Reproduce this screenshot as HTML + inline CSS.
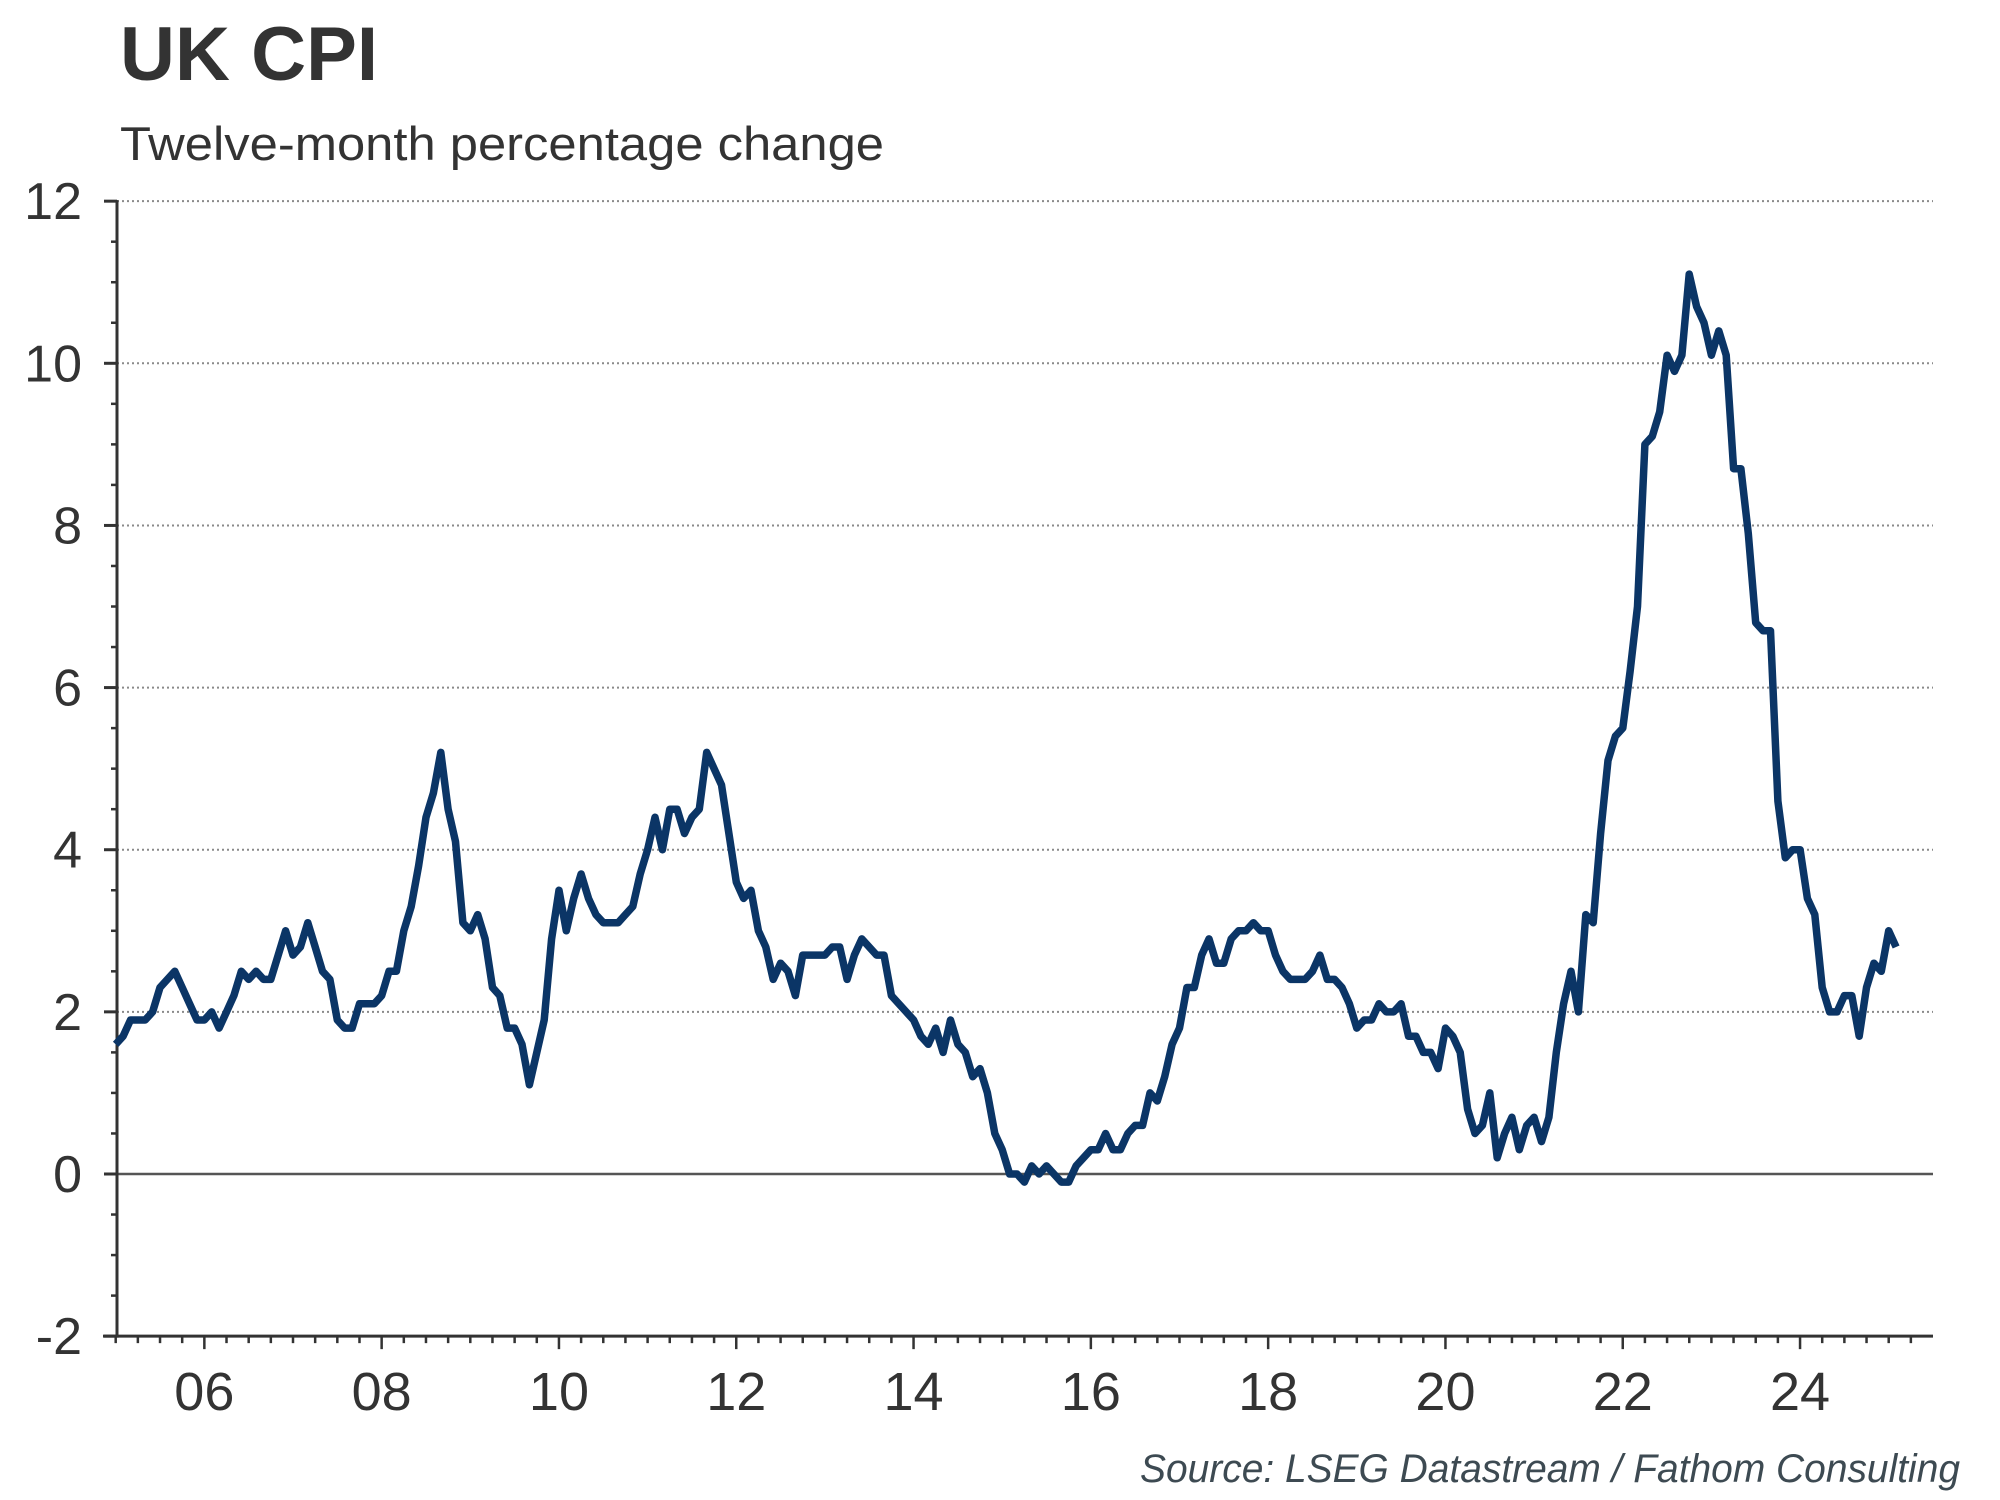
<!DOCTYPE html>
<html><head><meta charset="utf-8"><style>
html,body{margin:0;padding:0;background:#fff;}
svg{display:block;}
text{font-family:"Liberation Sans",Arial,sans-serif;fill:#333;}
</style></head><body>
<svg id="chart" width="2000" height="1500" viewBox="0 0 2000 1500" xmlns="http://www.w3.org/2000/svg">
<text x="120" y="80" font-size="76" font-weight="bold" textLength="258" lengthAdjust="spacingAndGlyphs">UK CPI</text>
<text x="120" y="160" font-size="47" textLength="764" lengthAdjust="spacingAndGlyphs">Twelve-month percentage change</text>
<g id="grid"></g>
<g id="yaxis"></g>
<g id="xaxis"></g>
<g id="series"></g>
<text x="1140" y="1482" font-size="40" font-style="italic" style="fill:#3d4a52" textLength="820" lengthAdjust="spacingAndGlyphs">Source: LSEG Datastream / Fathom Consulting</text>
</svg>
<script>
const startYear = 2005;
const yTicks = [-2, 0, 2, 4, 6, 8, 10, 12];
const xTickYears = [2006, 2008, 2010, 2012, 2014, 2016, 2018, 2020, 2022, 2024];
const xTickLabels = ["06","08","10","12","14","16","18","20","22","24"];
const cpi2005 = [1.6,1.7,1.9,1.9,1.9,2.0,2.3,2.4,2.5,2.3,2.1,1.9];
const cpi2006 = [1.9,2.0,1.8,2.0,2.2,2.5,2.4,2.5,2.4,2.4,2.7,3.0];
const cpi2007 = [2.7,2.8,3.1,2.8,2.5,2.4,1.9,1.8,1.8,2.1,2.1,2.1];
const cpi2008 = [2.2,2.5,2.5,3.0,3.3,3.8,4.4,4.7,5.2,4.5,4.1,3.1];
const cpi2009 = [3.0,3.2,2.9,2.3,2.2,1.8,1.8,1.6,1.1,1.5,1.9,2.9];
const cpi2010 = [3.5,3.0,3.4,3.7,3.4,3.2,3.1,3.1,3.1,3.2,3.3,3.7];
const cpi2011 = [4.0,4.4,4.0,4.5,4.5,4.2,4.4,4.5,5.2,5.0,4.8,4.2];
const cpi2012 = [3.6,3.4,3.5,3.0,2.8,2.4,2.6,2.5,2.2,2.7,2.7,2.7];
const cpi2013 = [2.7,2.8,2.8,2.4,2.7,2.9,2.8,2.7,2.7,2.2,2.1,2.0];
const cpi2014 = [1.9,1.7,1.6,1.8,1.5,1.9,1.6,1.5,1.2,1.3,1.0,0.5];
const cpi2015 = [0.3,0.0,0.0,-0.1,0.1,0.0,0.1,0.0,-0.1,-0.1,0.1,0.2];
const cpi2016 = [0.3,0.3,0.5,0.3,0.3,0.5,0.6,0.6,1.0,0.9,1.2,1.6];
const cpi2017 = [1.8,2.3,2.3,2.7,2.9,2.6,2.6,2.9,3.0,3.0,3.1,3.0];
const cpi2018 = [3.0,2.7,2.5,2.4,2.4,2.4,2.5,2.7,2.4,2.4,2.3,2.1];
const cpi2019 = [1.8,1.9,1.9,2.1,2.0,2.0,2.1,1.7,1.7,1.5,1.5,1.3];
const cpi2020 = [1.8,1.7,1.5,0.8,0.5,0.6,1.0,0.2,0.5,0.7,0.3,0.6];
const cpi2021 = [0.7,0.4,0.7,1.5,2.1,2.5,2.0,3.2,3.1,4.2,5.1,5.4];
const cpi2022 = [5.5,6.2,7.0,9.0,9.1,9.4,10.1,9.9,10.1,11.1,10.7,10.5];
const cpi2023 = [10.1,10.4,10.1,8.7,8.7,7.9,6.8,6.7,6.7,4.6,3.9,4.0];
const cpi2024 = [4.0,3.4,3.2,2.3,2.0,2.0,2.2,2.2,1.7,2.3,2.6,2.5];
const cpi2025 = [3.0,2.8];
const cpiValues = [].concat(cpi2005,cpi2006,cpi2007,cpi2008,cpi2009,cpi2010,cpi2011,cpi2012,cpi2013,cpi2014,cpi2015,cpi2016,cpi2017,cpi2018,cpi2019,cpi2020,cpi2021,cpi2022,cpi2023,cpi2024,cpi2025);

const NS = "http://www.w3.org/2000/svg";
const X0 = 115.7, PX_PER_YEAR = 88.65, PLOT_L = 117, PLOT_R = 1933;
function xScale(t){ return X0 + (t - startYear) * PX_PER_YEAR; }
function yScale(v){ return 1174 - v * 81.07; }
function mk(tag, attrs, parent){ const e = document.createElementNS(NS, tag); for (const k in attrs) e.setAttribute(k, attrs[k]); parent.appendChild(e); return e; }

const grid = document.getElementById('grid');
const yaxis = document.getElementById('yaxis');
const xaxis = document.getElementById('xaxis');
const series = document.getElementById('series');

yTicks.forEach(v => {
  const y = yScale(v);
  if (v > 0) {
    const g = mk('line', {x1: PLOT_L, x2: PLOT_R, y1: y, y2: y, stroke: '#8a8a8a', 'stroke-width': 2, 'stroke-dasharray': '2 3'}, grid);
    
    
  } else if (v === 0) {
    const z = mk('line', {x1: PLOT_L, x2: PLOT_R, y1: y, y2: y, stroke: '#555', 'stroke-width': 2.5}, grid);
    
    
  }
  const t = mk('line', {x1: 104, x2: PLOT_L, y1: y, y2: y, stroke: '#333', 'stroke-width': 3}, yaxis);
  
  
  const lb = mk('text', {x: 82, y: y + 18, 'font-size': 52, 'text-anchor': 'end'}, yaxis);
  lb.textContent = String(v);
  
  
});
for (let v = yTicks[0]; v < yTicks[yTicks.length - 1]; v += 0.5) {
  if (Number.isInteger(v / 2)) continue;
  const y = yScale(v);
  const m = mk('line', {x1: 111, x2: PLOT_L, y1: y, y2: y, stroke: '#333', 'stroke-width': 2.5}, yaxis);
  
  
}
const ya = mk('line', {x1: PLOT_L, x2: PLOT_L, y1: yScale(12) - 1, y2: yScale(-2) + 1.5, stroke: '#333', 'stroke-width': 3}, yaxis);



const xa = mk('line', {x1: PLOT_L - 14, x2: PLOT_R, y1: yScale(-2), y2: yScale(-2), stroke: '#333', 'stroke-width': 3}, xaxis);


for (let q = 0; q <= 82; q++) {
  const t = startYear + q / 4;
  const x = xScale(t);
  if (x < PLOT_L - 2 || x > PLOT_R) continue;
  const major = q % 8 === 4;
  const tk = mk('line', {x1: x, x2: x, y1: yScale(-2), y2: yScale(-2) + (major ? 13 : 7), stroke: '#333', 'stroke-width': 2.5}, xaxis);
  
  
}
xTickYears.forEach((yr, i) => {
  const lb = mk('text', {x: xScale(yr), y: 1410, 'font-size': 54, 'text-anchor': 'middle'}, xaxis);
  lb.textContent = xTickLabels[i];
  
  
});

const pts = cpiValues.map((v, i) => xScale(startYear + i / 12).toFixed(1) + ',' + yScale(v).toFixed(1));
const path = mk('polyline', {points: pts.join(' '), fill: 'none', stroke: '#0b3566', 'stroke-width': 7.5, 'stroke-linejoin': 'round', 'stroke-linecap': 'butt'}, series);


</script>
</body></html>
